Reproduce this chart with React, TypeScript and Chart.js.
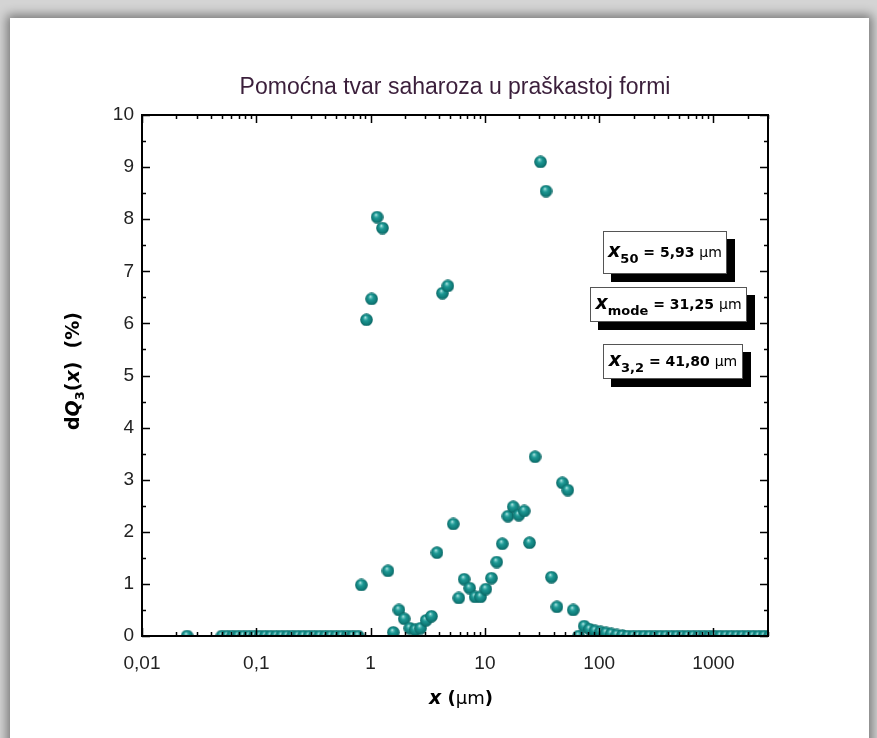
import React, { useEffect, useRef } from "react";
import { Chart, registerables } from "chart.js";

Chart.register(...registerables);

const TITLE = "Pomoćna tvar saharoza u praškastoj formi";

// particle size x (µm)
const xValues = [
  0.0248,
  0.05, 0.0558, 0.0623, 0.0695, 0.0776, 0.0866, 0.0966, 0.1078, 0.1203, 0.1343,
  0.1499, 0.1673, 0.1867, 0.2083, 0.2325, 0.2595, 0.2896, 0.3232, 0.3607, 0.4025,
  0.4492, 0.5013, 0.5595, 0.6244, 0.6968, 0.7776,
  0.83, 0.92, 1.02, 1.14, 1.27, 1.42, 1.58, 1.77, 1.97, 2.2,
  2.46, 2.74, 3.06, 3.41, 3.81, 4.25, 4.74, 5.29, 5.91, 6.59,
  7.36, 8.21, 9.16, 10.2, 11.4, 12.7, 14.2, 15.9, 17.7, 19.8,
  22.1, 24.6, 27.5, 30.7, 34.3, 38.2, 42.7, 47.6, 53.1, 59.3,
  66.2, 73.9, 82.5, 92.1, 103, 115, 128, 143, 160,
  178, 199, 222, 248, 277, 309, 345, 385, 430, 480,
  535, 597, 667, 744, 830, 927, 1034, 1154, 1288, 1438,
  1605, 1791, 1999, 2231, 2490, 2779, 3101,
];

// dQ3(x) (%)
const yValues = [
  0,
  0, 0, 0, 0, 0, 0, 0, 0, 0, 0,
  0, 0, 0, 0, 0, 0, 0, 0, 0, 0,
  0, 0, 0, 0, 0, 0,
  0.98, 6.07, 6.47, 8.04, 7.83, 1.25, 0.07, 0.5, 0.33, 0.15,
  0.12, 0.15, 0.3, 0.38, 1.6, 6.58, 6.72, 2.15, 0.73, 1.09,
  0.92, 0.75, 0.75, 0.9, 1.11, 1.42, 1.77, 2.3, 2.48, 2.32,
  2.4, 1.79, 3.44, 9.1, 8.54, 1.13, 0.56, 2.94, 2.8, 0.5,
  0, 0.19, 0.13, 0.1, 0.08, 0.06, 0.04, 0.02, 0.01,
  0, 0, 0, 0, 0, 0, 0, 0, 0, 0,
  0, 0, 0, 0, 0, 0, 0, 0, 0, 0,
  0, 0, 0, 0, 0, 0, 0,
];

const xTickValues = [0.01, 0.1, 1, 10, 100, 1000];
const yTickValues = [0, 1, 2, 3, 4, 5, 6, 7, 8, 9, 10];
const X_MIN = 0.01;
const X_MAX = 3000;

const annotationSubs = ["50", "mode", "3,2"];
const annotationValues = ["5,93", "31,25", "41,80"];

// annotation box placement (page pixels): left, top, width, height
const boxLayout = [
  [603, 231, 124, 43],
  [590, 287, 157, 35],
  [603, 344, 140, 35],
];

type Seg = { t: string; font: string; dy?: number };

function measureRich(ctx: CanvasRenderingContext2D, segs: Seg[]) {
  let w = 0;
  for (const s of segs) {
    ctx.font = s.font;
    w += ctx.measureText(s.t).width;
  }
  return w;
}

function drawRich(ctx: CanvasRenderingContext2D, segs: Seg[], cx: number, baseline: number) {
  const total = measureRich(ctx, segs);
  let x = cx - total / 2;
  ctx.textAlign = "left";
  ctx.textBaseline = "alphabetic";
  for (const s of segs) {
    ctx.font = s.font;
    ctx.fillText(s.t, x, baseline + (s.dy || 0));
    x += ctx.measureText(s.t).width;
  }
}

function makeSphere(d: number) {
  const c = document.createElement("canvas");
  c.width = d;
  c.height = d;
  const g = c.getContext("2d")!;
  const r = d / 2;
  const grad = g.createRadialGradient(r * 0.8, r * 0.6, 0, r, r, r);
  grad.addColorStop(0, "#f0fafa");
  grad.addColorStop(0.15, "#70c8c4");
  grad.addColorStop(0.4, "#1d9894");
  grad.addColorStop(0.82, "#0e7774");
  grad.addColorStop(1, "#0a605e");
  g.fillStyle = grad;
  g.beginPath();
  g.arc(r, r, r - 0.2, 0, Math.PI * 2);
  g.fill();
  return c;
}

const SANS = "'DejaVu Sans', Verdana, sans-serif";
const LABEL_FONT = "'Liberation Sans', Arial, sans-serif";

const decorPlugin = {
  id: "decor",
  afterDraw(chart: any) {
    const { ctx, chartArea, scales } = chart;
    const { left, right, top, bottom } = chartArea;
    const xs = scales.x;
    const ys = scales.y;
    ctx.save();

    // frame
    ctx.strokeStyle = "#000";
    ctx.lineWidth = 2;
    ctx.strokeRect(left, top, right - left, bottom - top);

    // x ticks (inward, bottom & top)
    ctx.lineWidth = 1.5;
    ctx.beginPath();
    for (let d = X_MIN; d < X_MAX; d *= 10) {
      for (let m = 1; m <= 9; m++) {
        const v = d * m;
        if (v > X_MAX * 1.0001) continue;
        const px = Math.round(xs.getPixelForValue(v)) + 0.5;
        const len = m === 1 ? 8 : 4;
        ctx.moveTo(px, bottom);
        ctx.lineTo(px, bottom - len);
        ctx.moveTo(px, top);
        ctx.lineTo(px, top + len);
      }
    }
    // y ticks (inward, left & right)
    for (let i = 0; i <= 20; i++) {
      const v = i / 2;
      const py = Math.round(ys.getPixelForValue(v)) + 0.5;
      const len = i % 2 === 0 ? 8 : 4;
      ctx.moveTo(left, py);
      ctx.lineTo(left + len, py);
      ctx.moveTo(right, py);
      ctx.lineTo(right - len, py);
    }
    ctx.stroke();

    // title
    ctx.fillStyle = "#3b1f3b";
    ctx.font = `23px 'Liberation Sans', Arial, sans-serif`;
    ctx.textAlign = "center";
    ctx.textBaseline = "alphabetic";
    ctx.fillText(TITLE, (left + right) / 2, 94);

    // x axis title
    ctx.fillStyle = "#000";
    drawRich(
      ctx,
      [
        { t: "x", font: `italic bold 19px ${SANS}` },
        { t: " (", font: `bold 18px ${SANS}` },
        { t: "µm", font: `18px ${SANS}` },
        { t: ")", font: `bold 18px ${SANS}` },
      ],
      461,
      704
    );

    // y axis title
    ctx.save();
    ctx.translate(79, 371);
    ctx.rotate(-Math.PI / 2);
    drawRich(
      ctx,
      [
        { t: "d", font: `bold 19px ${SANS}` },
        { t: "Q", font: `italic bold 19px ${SANS}` },
        { t: "3", font: `bold 13px ${SANS}`, dy: 5 },
        { t: "(", font: `bold 19px ${SANS}` },
        { t: "x", font: `italic bold 19px ${SANS}` },
        { t: ")  (%)", font: `bold 19px ${SANS}` },
      ],
      0,
      0
    );
    ctx.restore();

    // annotation boxes
    for (let i = 0; i < boxLayout.length; i++) {
      const [bx, by, bw, bh] = boxLayout[i];
      ctx.fillStyle = "#000";
      ctx.fillRect(bx + 8, by + 8, bw, bh);
      ctx.fillStyle = "#fff";
      ctx.fillRect(bx, by, bw, bh);
      ctx.strokeStyle = "#555";
      ctx.lineWidth = 1;
      ctx.strokeRect(bx + 0.5, by + 0.5, bw - 1, bh - 1);
      ctx.fillStyle = "#000";
      drawRich(
        ctx,
        [
          { t: "x", font: `italic bold 19px ${SANS}` },
          { t: annotationSubs[i], font: `bold 13px ${SANS}`, dy: 6 },
          { t: ` = ${annotationValues[i]} `, font: `bold 14px ${SANS}` },
          { t: "µm", font: `14px ${SANS}` },
        ],
        bx + bw / 2,
        by + bh / 2 + 4
      );
    }

    ctx.restore();
  },
};

export default function App() {
  const ref = useRef<HTMLCanvasElement>(null);

  useEffect(() => {
    const canvas = ref.current;
    if (!canvas) return;
    const sphere = makeSphere(13);
    const points = xValues.map((x, i) => ({ x, y: yValues[i] }));
    const chart = new Chart(canvas, {
      type: "scatter",
      data: {
        datasets: [
          {
            data: points,
            pointStyle: sphere as any,
            pointRadius: 6,
            showLine: false,
            clip: 0,
          } as any,
        ],
      },
      options: {
        responsive: false,
        animation: false,
        events: [],
        layout: { padding: { left: 0, top: 115, right: 109, bottom: 0 } },
        plugins: {
          legend: { display: false },
          tooltip: { enabled: false },
          title: { display: false },
        },
        scales: {
          x: {
            type: "logarithmic",
            min: X_MIN,
            max: X_MAX,
            grid: { display: false, drawTicks: false },
            border: { display: false },
            afterBuildTicks: (scale: any) => {
              scale.ticks = xTickValues.map((v) => ({ value: v }));
            },
            afterFit: (scale: any) => {
              scale.height = 102;
            },
            ticks: {
              autoSkip: false,
              maxRotation: 0,
              padding: 16,
              color: "#222",
              font: { family: LABEL_FONT, size: 19 },
              callback: (v: any) => String(v).replace(".", ","),
            },
          },
          y: {
            type: "linear",
            min: 0,
            max: 10,
            grid: { display: false, drawTicks: false },
            border: { display: false },
            afterBuildTicks: (scale: any) => {
              scale.ticks = yTickValues.map((v) => ({ value: v }));
            },
            afterFit: (scale: any) => {
              scale.width = 142;
            },
            ticks: {
              padding: 8,
              color: "#222",
              font: { family: LABEL_FONT, size: 19 },
            },
          },
        },
      },
      plugins: [decorPlugin],
    } as any);
    return () => chart.destroy();
  }, []);

  return (
    <div
      style={{
        position: "fixed",
        left: 0,
        top: 0,
        width: 877,
        height: 738,
        overflow: "hidden",
        background: "#d4d4d4",
      }}
    >
      <div
        style={{
          position: "absolute",
          left: 10,
          top: 18,
          width: 859,
          height: 760,
          background: "#fff",
          boxShadow: "0 0 10px 3px rgba(0,0,0,0.45)",
        }}
      />
      <canvas
        ref={ref}
        width={877}
        height={738}
        style={{ position: "absolute", left: 0, top: 0, width: 877, height: 738 }}
      />
    </div>
  );
}
